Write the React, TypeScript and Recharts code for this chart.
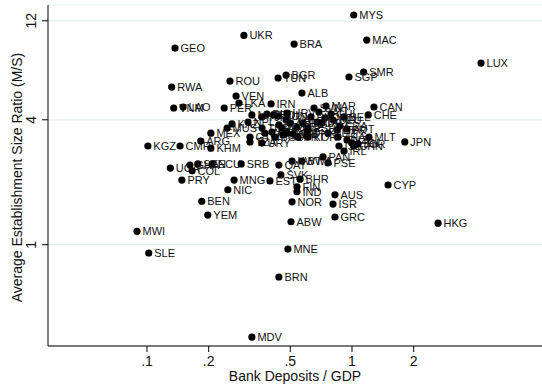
import { CartesianGrid, Label, Scatter, ScatterChart, XAxis, YAxis } from "recharts";

// country codes with bank deposits / GDP and the M/S establishment size ratio
const codes = [
  "MYS", "UKR", "GEO", "BRA", "MAC", "LUX", "SMR", "SGP", "BGR", "TUN",
  "ROU", "RWA", "ALB", "VEN", "LKA", "IRN", "VNM", "LAO", "PER", "MAR",
  "CAN", "CHE", "BEL", "HUN", "SVN", "SAU", "MKD", "TJK", "BIH", "BOL",
  "KAZ", "MUS", "MEX", "ARG", "KHM", "CMR", "KGZ", "GTM", "TUR", "ZAF",
  "PAK", "ARM", "DOM", "BGD", "TZA", "URY", "HRV", "ARE", "CZE", "POL",
  "ESP", "ITA", "OMN", "DEU", "FRA", "AUT", "GBR", "NLD", "SLV", "CRI",
  "DNK", "PRT", "KOR", "THA", "MLT", "JPN", "NZL", "LBN", "IRL", "ISL",
  "CHN", "JOR", "PAN", "PSE", "BWA", "KWT", "QAT", "SVK", "EST", "BHR",
  "FIN", "IND", "NOR", "AUS", "ISR", "GRC", "ABW", "HKG", "MNE", "BRN",
  "MDV", "CYP", "MWI", "SLE", "BEN", "YEM", "NIC", "MNG", "SRB", "ECU",
  "UGA", "GHA", "SEN", "COL", "PRY", "CHL", "PHL", "LTU", "LVA", "BLR",
  "NPL",
];

const deposits = [
  1.02, 0.297, 0.137, 0.522, 1.18, 4.26, 1.14, 0.967, 0.477, 0.436,
  0.254, 0.132, 0.57, 0.272, 0.281, 0.403, 0.135, 0.15, 0.238, 0.747,
  1.28, 1.2, 0.914, 0.436, 0.653, 0.69, 0.325, 0.364, 0.385, 0.416,
  0.26, 0.246, 0.205, 0.183, 0.205, 0.145, 0.101, 0.318, 0.364, 0.376,
  0.407, 0.456, 0.482, 0.421, 0.318, 0.364, 0.482, 0.498, 0.539, 0.577,
  0.61, 0.675, 0.738, 0.808, 0.874, 0.945, 0.845, 0.764, 0.461, 0.516,
  0.603, 0.545, 0.61, 0.855, 1.21, 1.81, 0.945, 1.0, 0.914, 0.864,
  1.02, 1.07, 0.722, 0.764, 0.57, 0.51, 0.44, 0.45, 0.398, 0.558,
  0.539, 0.539, 0.51, 0.826, 0.808, 0.826, 0.504, 2.63, 0.487, 0.44,
  0.325, 1.5, 0.0894, 0.102, 0.185, 0.198, 0.248, 0.266, 0.288, 0.208,
  0.13, 0.162, 0.177, 0.166, 0.148, 0.79, 0.631, 0.714, 0.477, 0.44,
  0.311,
];

const sizeRatio = [
  12.8, 10.2, 8.87, 9.27, 9.69, 7.51, 6.8, 6.43, 6.57, 6.36,
  6.15, 5.75, 5.38, 5.21, 4.82, 4.77, 4.56, 4.61, 4.56, 4.66,
  4.61, 4.22, 4.13, 4.17, 4.56, 4.36, 4.22, 4.13, 4.26, 4.22,
  3.82, 3.65, 3.45, 3.16, 2.92, 2.99, 2.99, 3.3, 3.65, 3.45,
  3.49, 3.65, 3.45, 3.3, 3.13, 3.09, 4.31, 3.86, 3.69, 3.86,
  3.65, 3.9, 4.08, 3.99, 3.73, 3.61, 3.57, 3.45, 3.38, 3.42,
  3.45, 3.3, 3.3, 3.3, 3.3, 3.13, 3.2, 3.09, 2.83, 2.99,
  2.99, 3.06, 2.65, 2.48, 2.53, 2.53, 2.42, 2.17, 2.03, 2.07,
  1.9, 1.8, 1.61, 1.74, 1.57, 1.36, 1.29, 1.27, 0.953, 0.699,
  0.359, 1.94, 1.16, 0.912, 1.62, 1.39, 1.84, 2.05, 2.45, 2.45,
  2.34, 2.42, 2.45, 2.27, 2.05, 4.26, 4.13, 3.86, 3.99, 3.78,
  3.9,
];

const xTicks = [0.1, 0.2, 0.5, 1, 2];
const xTickLabels = [".1", ".2", ".5", "1", "2"];
const yTicks = [1, 4, 12];
const yTickLabels = ["1", "4", "12"];

const data = codes.map((code, i) => ({ code, x: deposits[i], y: sizeRatio[i] }));

const FONT = '"Liberation Sans", Arial, Helvetica, sans-serif';

const Marker = (props: any) => {
  const { cx, cy, payload } = props;
  return (
    <g>
      <circle cx={cx} cy={cy} r={3.6} fill="#000" />
      <text
        x={cx + 5.5}
        y={cy}
        dominantBaseline="central"
        fontSize={11}
        fontFamily={FONT}
        fill="#111"
      >
        {payload.code}
      </text>
    </g>
  );
};

const XTick = ({ x, y, payload }: any) => (
  <text
    x={x}
    y={y + 7}
    textAnchor="middle"
    dominantBaseline="central"
    fontSize={14}
    fontFamily={FONT}
    fill="#111"
  >
    {xTickLabels[xTicks.indexOf(payload.value)] ?? payload.value}
  </text>
);

const YTick = ({ x, y, payload }: any) => {
  const tx = x - 8.5;
  return (
    <text
      x={tx}
      y={y}
      transform={`rotate(-90 ${tx} ${y})`}
      textAnchor="middle"
      dominantBaseline="central"
      fontSize={14}
      fontFamily={FONT}
      fill="#111"
    >
      {yTickLabels[yTicks.indexOf(payload.value)] ?? payload.value}
    </text>
  );
};

const XTitle = ({ viewBox }: any) => {
  const vb = viewBox ?? { x: 48, y: 346, width: 494, height: 42 };
  return (
    <text
      x={vb.x + vb.width / 2}
      y={vb.y + 30}
      textAnchor="middle"
      dominantBaseline="central"
      fontSize={14}
      fontFamily={FONT}
      fill="#111"
    >
      Bank Deposits / GDP
    </text>
  );
};

const YTitle = ({ viewBox }: any) => {
  const vb = viewBox ?? { x: 0, y: 5, width: 48, height: 341 };
  const cx = vb.x + 17;
  const cy = vb.y + vb.height / 2 + 2;
  return (
    <text
      x={cx}
      y={cy}
      transform={`rotate(-90 ${cx} ${cy})`}
      textAnchor="middle"
      dominantBaseline="central"
      fontSize={14}
      fontFamily={FONT}
      fill="#111"
    >
      Average Establishment Size Ratio (M/S)
    </text>
  );
};

export default function App() {
  return (
    <div style={{ position: "absolute", left: 0, top: 0, background: "#fff" }}>
      <ScatterChart
        width={542}
        height={388}
        margin={{ top: 5, right: 0, bottom: 0, left: 0 }}
      >
        <CartesianGrid vertical={false} stroke="#e3eded" strokeWidth={1.2} />
        <XAxis
          type="number"
          dataKey="x"
          scale="log"
          domain={[0.0329, 8.45]}
          allowDataOverflow
          ticks={xTicks}
          tick={<XTick />}
          tickSize={6}
          tickMargin={2}
          height={42}
          axisLine={{ stroke: "#000" }}
          tickLine={{ stroke: "#000" }}
        >
          <Label content={<XTitle />} />
        </XAxis>
        <YAxis
          type="number"
          dataKey="y"
          scale="log"
          domain={[0.325, 14.3]}
          allowDataOverflow
          ticks={yTicks}
          tick={<YTick />}
          tickSize={6}
          tickMargin={2}
          width={48}
          axisLine={{ stroke: "#000" }}
          tickLine={{ stroke: "#000" }}
        >
          <Label content={<YTitle />} />
        </YAxis>
        <Scatter data={data} shape={<Marker />} isAnimationActive={false} />
      </ScatterChart>
    </div>
  );
}
